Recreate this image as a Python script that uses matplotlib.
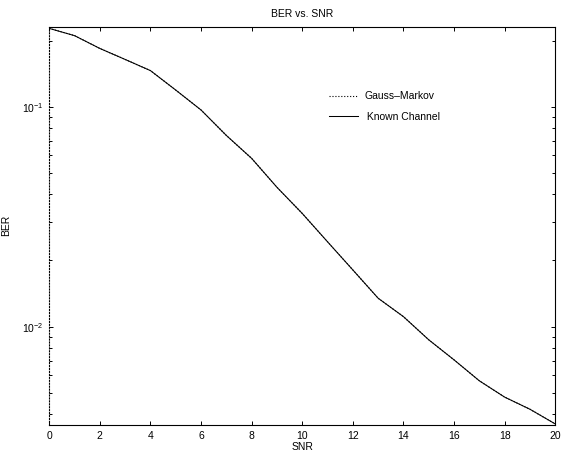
from matplotlib import pyplot as plt
from matplotlib.ticker import LogLocator, NullFormatter
import numpy as np

# data
snr = [0, 1, 2, 3, 4, 5, 6, 7, 8, 9, 10, 11, 12, 13, 14, 15, 16, 17, 18, 19, 20]
ber_gauss_markov = [0.2270, 0.2104, 0.1840, 0.1640, 0.1459, 0.1190, 0.0966, 0.0740,
                    0.0582, 0.0430, 0.0327, 0.0243, 0.0181, 0.01346, 0.0111, 0.00871,
                    0.00706, 0.00567, 0.00478, 0.00421, 0.00361]
ber_known = [0.2270, 0.2104, 0.1840, 0.1640, 0.1459, 0.1190, 0.0966, 0.0740,
             0.0582, 0.0430, 0.0327, 0.0243, 0.0181, 0.01346, 0.0111, 0.00871,
             0.00706, 0.00567, 0.00478, 0.00421, 0.00361]
xticks = [0, 2, 4, 6, 8, 10, 12, 14, 16, 18, 20]

plt.rcParams['font.family'] = ['Liberation Sans', 'DejaVu Sans']

fig = plt.figure(figsize=(5.88, 4.61), dpi=100)
ax = fig.add_axes([0.0838, 0.0781, 0.8605, 0.8639])

ax.plot(snr, ber_gauss_markov, linestyle=':', color='black', lw=0.8, label='Gauss\u2013Markov')
ax.plot(snr, ber_known, linestyle='-', color='black', lw=0.75, label=' Known Channel')

ax.set_yscale('log')
ax.set_xlim(0, 20)
ax.set_ylim(0.00357, 0.231)
ax.set_xticks(xticks)
ax.yaxis.set_major_locator(LogLocator(base=10))
ax.yaxis.set_minor_locator(LogLocator(base=10, subs=np.arange(2, 10)))
ax.yaxis.set_minor_formatter(NullFormatter())

# ticks
ax.tick_params(axis='both', which='major', direction='in', length=3,
               width=0.7, top=True, right=True, labelsize=7.5, pad=4)
ax.tick_params(axis='y', which='minor', direction='in', length=2,
               width=0.7, right=True)

# spines
for spine in ['top', 'bottom', 'right']:
    ax.spines[spine].set_linewidth(0.8)
ax.spines['left'].set_linewidth(0.8)
ax.spines['left'].set_linestyle(':')

ax.set_title('BER vs. SNR', fontsize=7.5, pad=7)
ax.set_xlabel('SNR', fontsize=7.5, labelpad=1)
ax.set_ylabel('BER', fontsize=7.5, labelpad=8)

legend = ax.legend(loc='upper left', bbox_to_anchor=(0.545, 0.848), frameon=False,
                   fontsize=7.5, handlelength=2.8, handletextpad=0.55,
                   labelspacing=1.0, borderaxespad=0)

fig.savefig('out.png', dpi=100)
